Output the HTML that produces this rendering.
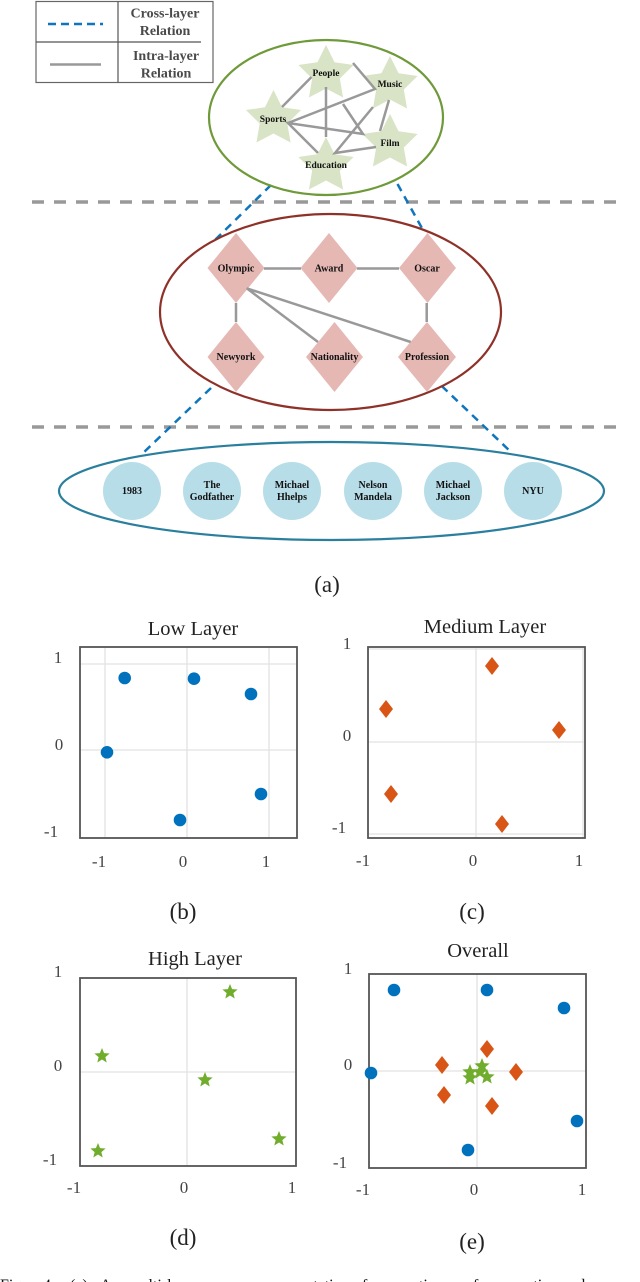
<!DOCTYPE html>
<html><head><meta charset="utf-8"><style>
html,body{margin:0;padding:0;background:#fff}
svg{display:block;font-family:"Liberation Serif",serif;filter:blur(.35px)}
.n{font-size:10px;font-weight:bold;text-anchor:middle;fill:#111}
.n2{font-size:9.5px;font-weight:bold;text-anchor:middle;fill:#111}
.l{font-size:14px;font-weight:bold;text-anchor:middle;fill:#4a4a4a}
.g{stroke:#999;stroke-width:2.5;fill:none}
.b{stroke:#0f75bd;stroke-width:2.5;stroke-dasharray:8 6;fill:none}
.d{stroke:#999;stroke-width:3.5;stroke-dasharray:12 10;fill:none}
.t{font-size:20.5px;text-anchor:middle;fill:#222}
.k{font-size:17px;text-anchor:middle;fill:#444}
.c{font-size:23px;text-anchor:middle;fill:#222}
.f{fill:none;stroke:#555;stroke-width:1.8}
.gr{stroke:#e2e2e2;stroke-width:1.3}
</style></head><body>
<svg xmlns="http://www.w3.org/2000/svg" width="640" height="1282" viewBox="0 0 640 1282">
<defs>
<polygon id="s" points="0,-1 .294,-.405 .951,-.309 .476,.155 .588,.809 0,.5 -.588,.809 -.476,.155 -.951,-.309 -.294,-.405"/>
<polygon id="p" points="0,-1 .26,-.36 .951,-.309 .42,.137 .588,.809 0,.44 -.588,.809 -.42,.137 -.951,-.309 -.26,-.36"/>
<polygon id="m" points="0,-9 7,0 0,9 -7,0" fill="#d95516"/>
<circle id="o" r="6.3" fill="#0071bc"/>
</defs>
<rect width="640" height="1282" fill="#fff"/>

<!-- legend -->
<rect x="36" y="1.5" width="177" height="81" fill="none" stroke="#666" stroke-width="1.2"/>
<path d="M118 1.500V82.500M36 42H201" stroke="#555" stroke-width="1.2" fill="none"/>
<path d="M48 24H103" stroke="#0f75bd" stroke-width="2.5" stroke-dasharray="8 5" fill="none"/>
<path d="M50 64.500H101" class="g"/>
<text class="l" x="165" y="17.500">Cross-layer</text>
<text class="l" x="165" y="35">Relation</text>
<text class="l" x="166" y="60">Intra-layer</text>
<text class="l" x="166" y="77.500">Relation</text>

<!-- dashed separators -->
<path class="d" d="M32 202H620"/>
<path class="d" d="M32 427H620"/>

<!-- cross-layer lines -->
<path class="b" d="M271 185L215 240"/>
<path class="b" d="M397.500 184L423 230"/>
<path class="b" d="M211 388L142 454"/>
<path class="b" d="M441.700 386L512 453"/>

<!-- high layer -->
<ellipse cx="326" cy="117.500" rx="117" ry="77.500" fill="none" stroke="#6f9a3a" stroke-width="2.2"/>
<g fill="#d9e3c5">
<use href="#s" transform="translate(326,74) scale(29)"/>
<use href="#s" transform="translate(390,85) scale(29)"/>
<use href="#s" transform="translate(273.500,119) scale(29)"/>
<use href="#s" transform="translate(390,143) scale(29)"/>
<use href="#s" transform="translate(326,166) scale(29)"/>
</g>
<path class="g" d="M311.500 77L282 107M353 63L375 89L288 123M326 87V137M343 104L363 134L288 123L318 153M373 107L335 153L376 147M389 100L380 131"/>
<text class="n2" x="326" y="76">People</text>
<text class="n2" x="390" y="87">Music</text>
<text class="n2" x="273" y="122">Sports</text>
<text class="n2" x="390" y="146">Film</text>
<text class="n2" x="326" y="168">Education</text>

<!-- medium layer -->
<ellipse cx="330.500" cy="312" rx="170.500" ry="98" fill="none" stroke="#8e3229" stroke-width="2.2"/>
<g fill="#e5b8b4">
<polygon points="236,233 264.500,268 236,303 207.500,268"/>
<polygon points="329,233 357.500,268 329,303 300.500,268"/>
<polygon points="427.500,233 456,268 427.500,303 399,268"/>
<polygon points="236,322 264.500,357 236,392 207.500,357"/>
<polygon points="334.500,322 363,357 334.500,392 306,357"/>
<polygon points="427,322 456,357 427,392 398,357"/>
</g>
<path class="g" d="M264 268.500H301M357 268.500H399M236 303V322M426.700 303V322M246.700 288.300L318 342M246.700 288.300L410.700 342"/>
<text class="n" x="236" y="271.500">Olympic</text>
<text class="n" x="329" y="271.500">Award</text>
<text class="n" x="427" y="271.500">Oscar</text>
<text class="n" x="236" y="360">Newyork</text>
<text class="n" x="334.500" y="360">Nationality</text>
<text class="n" x="427" y="360">Profession</text>

<!-- low layer -->
<ellipse cx="331.500" cy="491" rx="272.500" ry="49" fill="none" stroke="#2a7f9e" stroke-width="2.2"/>
<g fill="#b7dde8">
<circle cx="132" cy="491" r="29"/><circle cx="212" cy="491" r="29"/><circle cx="292" cy="491" r="29"/>
<circle cx="373" cy="491" r="29"/><circle cx="453" cy="491" r="29"/><circle cx="533" cy="491" r="29"/>
</g>
<text class="n" x="132" y="494">1983</text>
<text class="n" x="212" y="488">The</text><text class="n" x="212" y="500">Godfather</text>
<text class="n" x="292" y="488">Michael</text><text class="n" x="292" y="500">Hhelps</text>
<text class="n" x="373" y="488">Nelson</text><text class="n" x="373" y="500">Mandela</text>
<text class="n" x="453" y="488">Michael</text><text class="n" x="453" y="500">Jackson</text>
<text class="n" x="533" y="494">NYU</text>
<text class="c" x="327" y="592">(a)</text>

<!-- plot b -->
<path class="gr" d="M105 647V838M187 647V838M269 647V838M80 664H297M80 750H297"/>
<rect class="f" x="80" y="647" width="217" height="191"/>
<use href="#o" x="124.700" y="678"/><use href="#o" x="194" y="678.700"/><use href="#o" x="251" y="694"/>
<use href="#o" x="107" y="752.300"/><use href="#o" x="261" y="794"/><use href="#o" x="180" y="820"/>
<text class="t" x="193" y="635">Low Layer</text>
<text class="k" x="58" y="663">1</text><text class="k" x="59" y="750">0</text><text class="k" x="51" y="837">-1</text>
<text class="k" x="99" y="867">-1</text><text class="k" x="183" y="867">0</text><text class="k" x="266" y="867">1</text>
<text class="c" x="183" y="919">(b)</text>

<!-- plot c -->
<path class="gr" d="M476 647V838M583 647V838M368 742H585M368 649H585M368 834H585"/>
<rect class="f" x="368" y="647" width="217" height="191"/>
<use href="#m" x="492" y="666"/><use href="#m" x="386" y="709"/><use href="#m" x="559" y="730"/>
<use href="#m" x="391" y="794"/><use href="#m" x="502" y="824"/>
<text class="t" x="485" y="633">Medium Layer</text>
<text class="k" x="347" y="649">1</text><text class="k" x="347" y="741">0</text><text class="k" x="339" y="833">-1</text>
<text class="k" x="363" y="866">-1</text><text class="k" x="473" y="866">0</text><text class="k" x="579" y="866">1</text>
<text class="c" x="472" y="919">(c)</text>

<!-- plot d -->
<path class="gr" d="M187 978V1166M80 1072H296"/>
<rect class="f" x="80" y="978" width="216" height="188"/>
<g fill="#70ad2c">
<use href="#p" transform="translate(230,992) scale(8)"/>
<use href="#p" transform="translate(102,1056) scale(8)"/>
<use href="#p" transform="translate(205,1080) scale(8)"/>
<use href="#p" transform="translate(279,1139) scale(8)"/>
<use href="#p" transform="translate(98,1151) scale(8)"/>
</g>
<text class="t" x="195" y="965">High Layer</text>
<text class="k" x="58" y="977">1</text><text class="k" x="58" y="1071">0</text><text class="k" x="50" y="1165">-1</text>
<text class="k" x="74" y="1193">-1</text><text class="k" x="184" y="1193">0</text><text class="k" x="292" y="1193">1</text>
<text class="c" x="183" y="1245">(d)</text>

<!-- plot e -->
<path class="gr" d="M477 974V1168M369 1071H586"/>
<rect class="f" x="369" y="974" width="217" height="194"/>
<use href="#o" x="394" y="990"/><use href="#o" x="487" y="990"/><use href="#o" x="564" y="1008"/>
<use href="#o" x="371" y="1073"/><use href="#o" x="577" y="1121"/><use href="#o" x="468" y="1150"/>
<use href="#m" x="487" y="1049"/><use href="#m" x="442" y="1065"/><use href="#m" x="516" y="1072"/>
<use href="#m" x="444" y="1095"/><use href="#m" x="492" y="1106"/>
<g fill="#70ad2c">
<use href="#p" transform="translate(482,1066) scale(8)"/>
<use href="#p" transform="translate(470,1072) scale(8)"/>
<use href="#p" transform="translate(470,1078) scale(8)"/>
<use href="#p" transform="translate(487,1077) scale(8)"/>
<use href="#p" transform="translate(480,1072) scale(8)"/>
</g>
<text class="t" x="478" y="957">Overall</text>
<text class="k" x="348" y="974">1</text><text class="k" x="348" y="1070">0</text><text class="k" x="340" y="1168">-1</text>
<text class="k" x="363" y="1195">-1</text><text class="k" x="474" y="1195">0</text><text class="k" x="582" y="1195">1</text>
<text class="c" x="472" y="1249">(e)</text>

<!-- clipped caption -->
<text y="1290" font-size="16" fill="#111"><tspan x="0">Fig.</tspan><tspan x="43">4.</tspan><tspan x="70">(a)</tspan><tspan x="100">A</tspan><tspan x="128">multi-layer</tspan><tspan x="259">representation</tspan><tspan x="354">of</tspan><tspan x="378">semantics</tspan><tspan x="473">for</tspan><tspan x="500">a caption and</tspan></text>
</svg>
</body></html>
